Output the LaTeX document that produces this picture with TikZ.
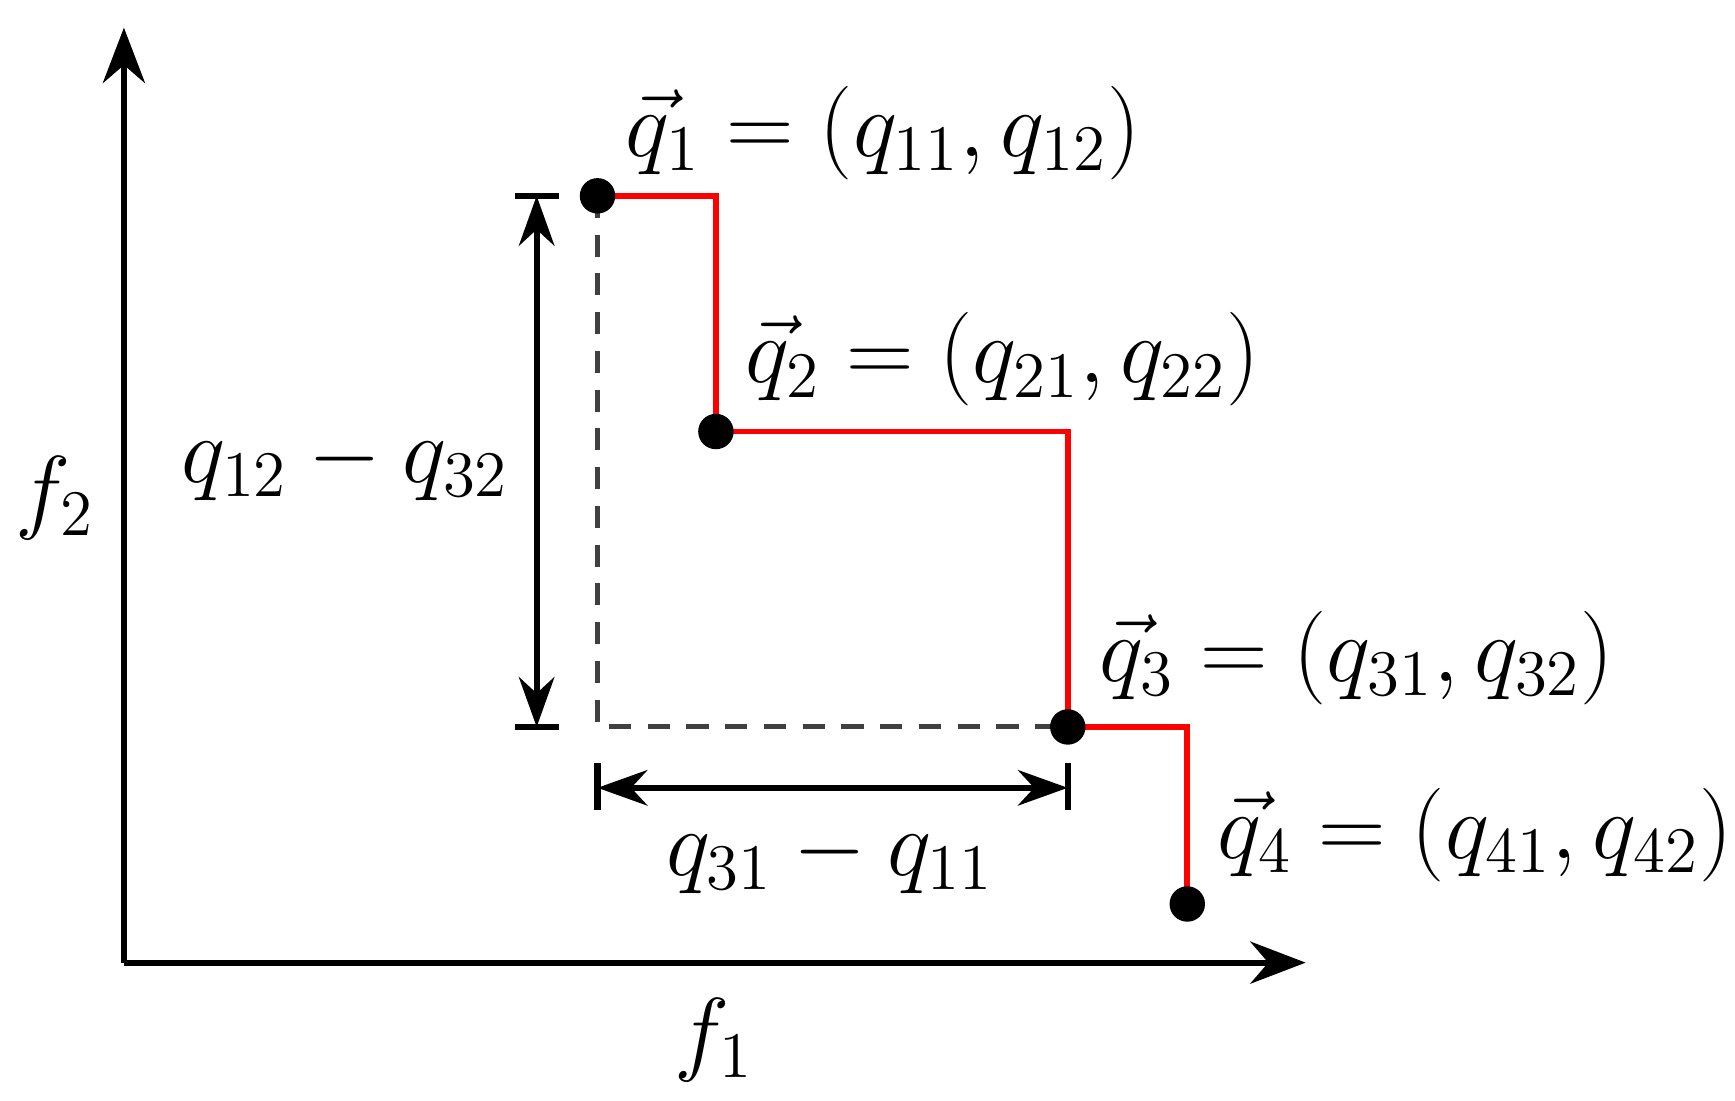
\documentclass[tikz,border=0pt]{standalone}
\usetikzlibrary{arrows.meta}
\newcommand{\bigtxt}[1]{\scalebox{1.16}{#1}}
\begin{document}
\begin{tikzpicture}[x=0.01cm,y=-0.01cm,
  lbl/.style={font=\fontsize{21pt}{25pt}\selectfont,inner sep=0pt},
  dot/.style={circle,fill=black,minimum size=0.32cm,inner sep=0pt},
  ax/.style={line width=1.6pt,-{Stealth[length=0.5cm,width=0.38cm]}},
  dim/.style={line width=1.6pt,{Stealth[length=0.45cm,width=0.32cm]}-{Stealth[length=0.45cm,width=0.32cm]}},
  stair/.style={red,line width=1.5pt},
  dsh/.style={black!75,line width=1.3pt,dash pattern=on 0.2cm off 0.15cm}]
\useasboundingbox (0,0) rectangle (1568,995);
\coordinate (O) at (112,870);
\coordinate (Y) at (112,25);
\coordinate (X) at (1180,870);
\draw[ax] (O) -- (Y);
\draw[ax] (O) -- (X);
\coordinate (p1) at (540,177);
\coordinate (p2) at (647,390);
\coordinate (p3) at (965,657);
\coordinate (p4) at (1073,817);
\coordinate (c) at (540,657);
\draw[dsh] (p1) -- (c) -- (p3);
\draw[stair] (p1) -| (p2) -| (p3) -| (p4);
\node[dot] (q1) at (p1) {};
\node[dot] (q2) at (p2) {};
\node[dot] (q3) at (p3) {};
\node[dot] (q4) at (p4) {};
\coordinate (vt) at (485,177); \coordinate (vb) at (485,657);
\draw[line width=1.6pt] (465,177) -- (505,177) (465,657) -- (505,657);
\draw[dim] (vt) -- (vb);
\coordinate (hl) at (540,712); \coordinate (hr) at (965,712);
\draw[line width=1.6pt] (540,690) -- (540,732) (965,690) -- (965,732);
\draw[dim] (hl) -- (hr);
\node[lbl,anchor=west] (l1) at (565,120) {\bigtxt{$\vec q_1=(q_{11},q_{12})$}};
\node[lbl,anchor=west] (l2) at (673,325) {\bigtxt{$\vec q_2=(q_{21},q_{22})$}};
\node[lbl,anchor=west] (l3) at (993,595) {\bigtxt{$\vec q_3=(q_{31},q_{32})$}};
\node[lbl,anchor=west] (l4) at (1100,755) {\bigtxt{$\vec q_4=(q_{41},q_{42})$}};
\node[lbl] (d1) at (312,420) {\bigtxt{$q_{12}-q_{32}$}};
\node[lbl] (d2) at (750,775) {\bigtxt{$q_{31}-q_{11}$}};
\node[lbl] (f2) at (50,450) {\bigtxt{$f_2$}};
\node[lbl] (f1) at (645,940) {\bigtxt{$f_1$}};
\end{tikzpicture}
\end{document}
